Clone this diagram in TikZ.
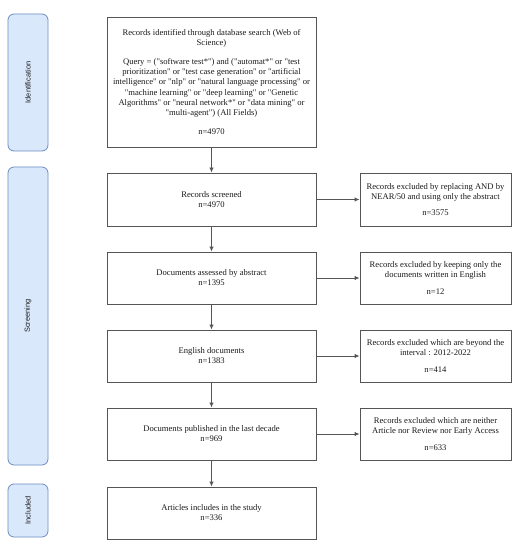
\documentclass[tikz,border=0pt]{standalone}
\usepackage{fontspec}
\setmainfont{Liberation Serif}
\newfontfamily\tnr{Liberation Serif}
\newfontfamily\hlv{Liberation Sans}
\usetikzlibrary{arrows.meta}
\definecolor{lanefill}{HTML}{DAE8FC}
\definecolor{lanedraw}{HTML}{6C8EBF}
\definecolor{boxline}{HTML}{555555}
\definecolor{txt}{HTML}{1A1A1A}
\tikzset{
  mainbox/.style={draw=boxline, line width=0.9bp, minimum width=209bp, inner sep=0pt, align=center, text=txt,
    font=\tnr\fontsize{8.6bp}{10.1bp}\selectfont},
  sidebox/.style={draw=boxline, line width=0.9bp, minimum width=151bp, minimum height=53bp, inner sep=0pt, align=center, text=txt,
    font=\tnr\fontsize{8.6bp}{10.1bp}\selectfont},
  lane/.style={draw=lanedraw, fill=lanefill, line width=0.8bp, rounded corners=6bp, minimum width=40bp, inner sep=0pt},
  lanetext/.style={rotate=90, font=\hlv\fontsize{7.4bp}{8.5bp}\selectfont, text=txt},
  conn/.style={draw=boxline, line width=0.9bp, -{Latex[length=5bp,width=4.5bp]}}
}
\begin{document}
\begin{tikzpicture}[x=1bp,y=-1bp]
\useasboundingbox (0,0) rectangle (524,550);
% lanes
\node[lane, minimum height=137bp] (l1) at (28,82.5) {};
\node[lanetext] (l1t) at (l1.center) {Identification};
\node[lane, minimum height=298bp] (l2) at (28,316) {};
\node[lanetext] (l2t) at (l2.center) {Screening};
\node[lane, minimum height=53bp] (l3) at (28,510.5) {};
\node[lanetext] (l3t) at (l3.center) {Included};
% main boxes
\node[mainbox, minimum height=130bp] (b1) at (211.5,82) {Records identified through database search (Web of\\ Science)\\[8.8bp]
Query = ("software test*") and ("automat*" or "test\\
prioritization" or "test case generation" or "artificial\\
intelligence" or "nlp" or "natural language processing" or\\
"machine learning" or "deep learning" or "Genetic\\
Algorithms" or "neural network*" or "data mining" or\\
"multi-agent") (All Fields)\\[8.8bp]
n=4970};
\node[mainbox, minimum height=53bp] (b2) at (211.5,199.5) {Records screened\\ n=4970};
\node[mainbox, minimum height=52bp] (b3) at (211.5,278) {Documents assessed by abstract\\ n=1395};
\node[mainbox, minimum height=52bp] (b4) at (211.5,356) {English documents\\ n=1383};
\node[mainbox, minimum height=52bp] (b5) at (211.5,434) {Documents published in the last decade\\ n=969};
\node[mainbox, minimum height=52bp] (b6) at (211.5,513) {Articles includes in the study\\ n=336};
% right boxes
\node[sidebox] (r1) at (435.5,199.5) {Records excluded by replacing AND by\\ NEAR/50 and using only the abstract\\[6.5bp] n=3575};
\node[sidebox, minimum height=52bp] (r2) at (435.5,278) {Records excluded by keeping only the\\ documents written in English\\[6.5bp] n=12};
\node[sidebox, minimum height=52bp] (r3) at (435.5,356) {Records excluded which are beyond the\\ interval : 2012-2022\\[6.5bp] n=414};
\node[sidebox, minimum height=52bp] (r4) at (435.5,434) {Records excluded which are neither\\ Article nor Review nor Early Access\\[6.5bp] n=633};
% vertical arrows
\draw[conn] (b1.south) -- (b2.north);
\draw[conn] (b2.south) -- (b3.north);
\draw[conn] (b3.south) -- (b4.north);
\draw[conn] (b4.south) -- (b5.north);
\draw[conn] (b5.south) -- (b6.north);
% horizontal arrows
\draw[conn] (b2.east) -- (r1.west);
\draw[conn] (b3.east) -- (r2.west);
\draw[conn] (b4.east) -- (r3.west);
\draw[conn] (b5.east) -- (r4.west);
\end{tikzpicture}
\end{document}
